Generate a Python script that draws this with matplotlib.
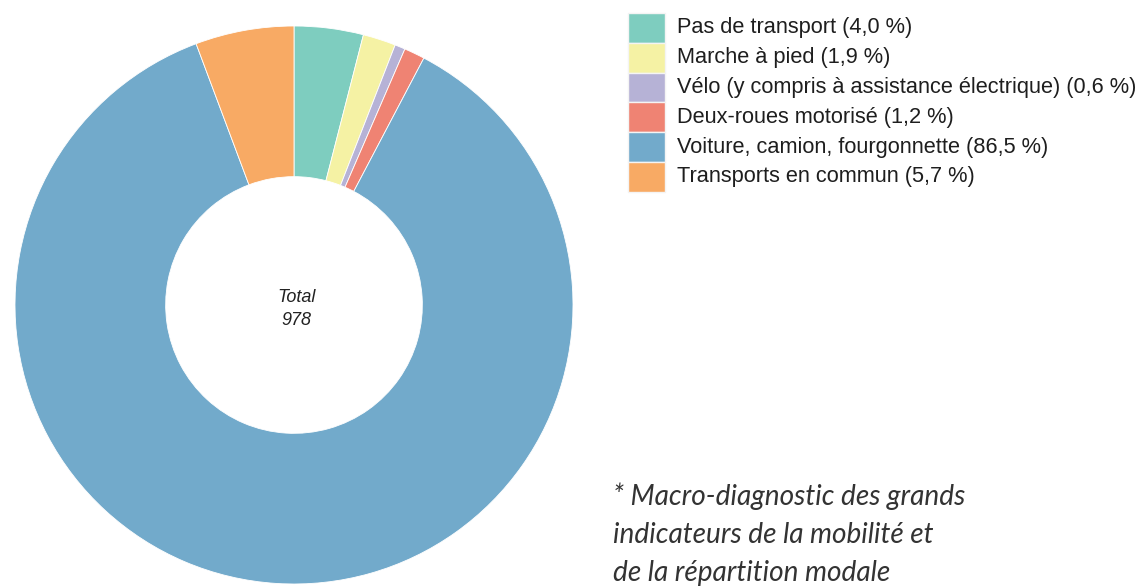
import numpy as np
import matplotlib.pyplot as plt
from matplotlib.patches import Rectangle

labels = ["Pas de transport", "Marche à pied",
          "Vélo (y compris à assistance électrique)", "Deux-roues motorisé",
          "Voiture, camion, fourgonnette", "Transports en commun"]
shares = [4.0, 1.9, 0.6, 1.2, 86.5, 5.7]
colors = ["#7ecdbf", "#f5f2a4", "#b6b2d6", "#ef8373", "#72aacb", "#f8aa64"]
total = 978
note_lines = ["* Macro-diagnostic des grands",
              "indicateurs de la mobilité et",
              "de la répartition modale"]

W, H = 1146, 586
fig = plt.figure(figsize=(W / 100, H / 100), dpi=100)

# donut, centre (294, 305) px from top-left, radius ~279 px
cx, cy, r = 294, 305, 279
ax = fig.add_axes([(cx - r) / W, (H - cy - r) / H, 2 * r / W, 2 * r / H])
ax.pie(shares, colors=colors, startangle=90, counterclock=False,
       wedgeprops=dict(width=0.54, edgecolor="white", linewidth=0.6))
ax.set_xlim(-1, 1)
ax.set_ylim(-1, 1)
ax.set_aspect("equal")
ax.axis("off")
ax.text(0.01, -0.015, "Total\n%d" % total, ha="center", va="center",
        fontsize=13, style="italic", family="Liberation Sans",
        color="#222222", linespacing=1.5)

# legend
x0, y0, step = 628, 13, 29.8
for i, (lab, val, col) in enumerate(zip(labels, shares, colors)):
    top = y0 + i * step
    fig.patches.append(Rectangle((x0 / W, (H - top - step) / H), 37 / W, step / H,
                                 transform=fig.transFigure, facecolor=col,
                                 edgecolor="#f4f4f4", linewidth=1))
    txt = "%s (%s %%)" % (lab, ("%.1f" % val).replace(".", ","))
    fig.text(677 / W, (H - top - step / 2) / H, txt, ha="left", va="center",
             fontsize=15.7, family="Liberation Sans", color="#1e1e1e")

# footnote
for i, line in enumerate(note_lines):
    fig.text(613 / W, (H - 505 - i * 38) / H, line, ha="left", va="baseline",
             fontsize=20.2, style="italic", family="Lato", color="#333333")

fig.savefig("out.png", dpi=100)
